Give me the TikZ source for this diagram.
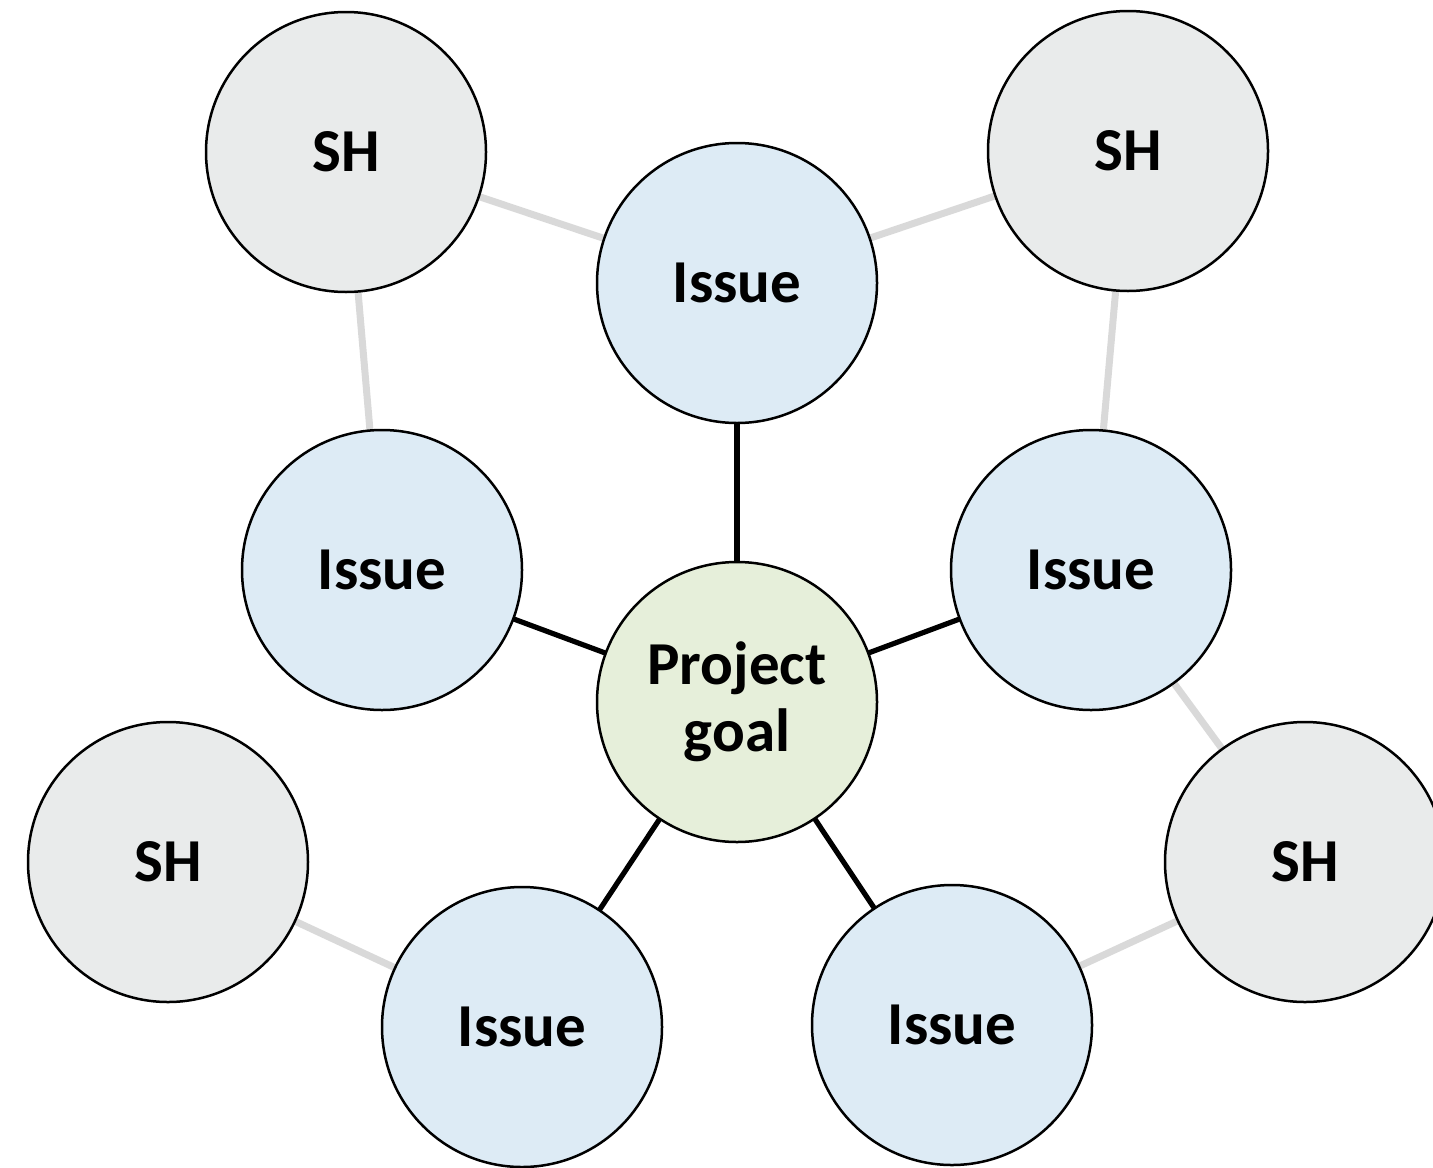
\documentclass[tikz,border=0pt]{standalone}
\usepackage{fontspec}
\setmainfont{Carlito}
\definecolor{shfill}{HTML}{E9EBEB}
\definecolor{issuefill}{HTML}{DDEBF5}
\definecolor{goalfill}{HTML}{E6EFDA}
\definecolor{grayline}{HTML}{D9D9D9}
\begin{document}
\begin{tikzpicture}[x=0.5pt,y=-0.5pt,
  bubble/.style={circle,draw=black,line width=1.25pt,minimum size=140pt,inner sep=0pt,
     font=\fontsize{30.5}{33.5}\selectfont\bfseries,align=center},
  shnode/.style={bubble,fill=shfill},
  issuenode/.style={bubble,fill=issuefill},
  goalnode/.style={bubble,fill=goalfill},
  weak/.style={draw=grayline,line width=3.5pt},
  strong/.style={draw=black,line width=2.6pt}]
\useasboundingbox (0,0) rectangle (1433,1167);
\clip (0,0) rectangle (1433,1167);
% positions
\coordinate (pG) at (737,702);
\coordinate (pI1) at (737,283);
\coordinate (pI2) at (382,570);
\coordinate (pI3) at (1091,570);
\coordinate (pI4) at (522,1027);
\coordinate (pI5) at (952,1025);
\coordinate (pS1) at (346,152);
\coordinate (pS2) at (1128,151);
\coordinate (pS3) at (168,862);
\coordinate (pS4) at (1305,862);
% connectors behind nodes
\draw[weak] (pS1) -- (pI1);
\draw[weak] (pS1) -- (pI2);
\draw[weak] (pS2) -- (pI1);
\draw[weak] (pS2) -- (pI3);
\draw[weak] (pS3) -- (pI4);
\draw[weak] (pS4) -- (pI3);
\draw[weak] (pS4) -- (pI5);
\draw[strong] (pG) -- (pI1);
\draw[strong] (pG) -- (pI2);
\draw[strong] (pG) -- (pI3);
\draw[strong] (pG) -- (pI4);
\draw[strong] (pG) -- (pI5);
% nodes
\node[goalnode] (goal) at (pG) {Project\\goal};
\node[issuenode] (i1) at (pI1) {Issue};
\node[issuenode] (i2) at (pI2) {Issue};
\node[issuenode] (i3) at (pI3) {Issue};
\node[issuenode] (i4) at (pI4) {Issue};
\node[issuenode] (i5) at (pI5) {Issue};
\node[shnode] (s1) at (pS1) {SH};
\node[shnode] (s2) at (pS2) {SH};
\node[shnode] (s3) at (pS3) {SH};
\node[shnode] (s4) at (pS4) {SH};
\end{tikzpicture}
\end{document}
